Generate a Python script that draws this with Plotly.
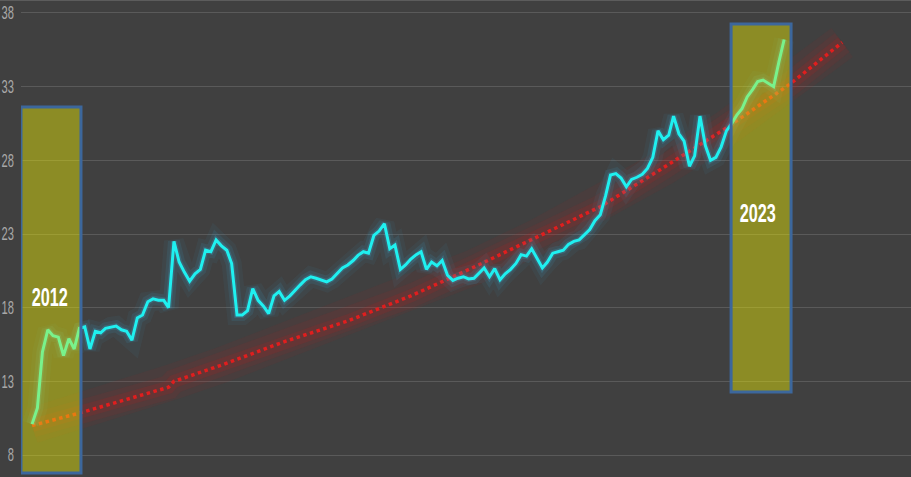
import pandas as pd
import plotly.graph_objects as go

# ---- data ----
months = pd.date_range("2012-01-01", periods=144, freq="MS")
values = [
    10.1, 11.2, 15.0, 16.5, 16.1, 16.0, 14.75, 15.9, 15.2, 16.6,
    16.7, 15.2, 16.4, 16.3, 16.6, 16.7, 16.75, 16.5, 16.4, 15.8,
    17.3, 17.5, 18.4, 18.6, 18.5, 18.5, 18.0, 22.5, 21.1, 20.4,
    19.8, 20.3, 20.6, 21.9, 21.8, 22.6, 22.2, 21.9, 21.0, 17.5,
    17.5, 17.8, 19.3, 18.5, 18.1, 17.6, 18.8, 19.1, 18.5, 18.8,
    19.2, 19.55, 19.9, 20.1, 20.0, 19.85, 19.75, 19.95, 20.35, 20.7,
    20.9, 21.2, 21.55, 21.8, 21.7, 22.9, 23.2, 23.7, 22.0, 22.25,
    20.6, 20.9, 21.3, 21.6, 21.8, 20.6, 21.1, 20.85, 21.2, 20.2,
    19.85, 20.0, 20.1, 19.95, 20.0, 20.4, 20.7, 20.1, 20.65, 19.9,
    20.3, 20.6, 21.0, 21.6, 21.5, 22.0, 21.35, 20.7, 21.1, 21.7,
    21.8, 21.9, 22.3, 22.5, 22.6, 22.95, 23.3, 23.9, 24.3, 25.6,
    27.0, 27.1, 26.8, 26.2, 26.7, 26.85, 27.05, 27.45, 28.2, 30.0,
    29.4, 29.7, 31.0, 29.8, 29.3, 27.6, 28.3, 31.0, 29.0, 28.0,
    28.2, 28.9, 30.0, 30.5, 31.05, 31.5, 32.3, 32.8, 33.35, 33.45,
    33.25, 33.0, 34.7, 36.2,
]
trend_dates = ["2012-01-01", "2012-10-01", "2014-03-01", "2014-04-01", "2015-01-01",
               "2016-01-01", "2017-01-01", "2018-01-01", "2019-01-01", "2020-01-01",
               "2021-01-01", "2022-01-01", "2023-01-01", "2024-01-01", "2024-11-01"]
trend_values = [10.0, 10.85, 12.6, 13.0, 14.1, 15.7, 17.1, 18.8, 20.75, 22.8,
                24.85, 27.5, 30.2, 33.15, 36.0]
highlight_labels = ["2012", "2023"]
y_ticks = [8, 13, 18, 23, 28, 33, 38]

BG = "#404040"
fig = go.Figure()

# trend glow
for w, a in [(36, 0.06), (24, 0.08), (13, 0.13)]:
    fig.add_trace(go.Scatter(x=trend_dates, y=trend_values, mode="lines",
                             line=dict(color=f"rgba(220,20,20,{a})", width=w),
                             hoverinfo="skip", showlegend=False))
fig.add_trace(go.Scatter(x=trend_dates, y=trend_values, mode="lines",
                         line=dict(color="#e01e1e", width=3.5, dash="dot"),
                         showlegend=False))

# main line glow
for w, a in [(20, 0.05), (12, 0.09), (6, 0.16)]:
    fig.add_trace(go.Scatter(x=months, y=values, mode="lines",
                             line=dict(color=f"rgba(60,200,255,{a})", width=w),
                             hoverinfo="skip", showlegend=False))
fig.add_trace(go.Scatter(x=months, y=values, mode="lines",
                         line=dict(color="#1ff0f0", width=3),
                         showlegend=False))

box_style = dict(type="rect", xref="x", yref="y", layer="above",
                 fillcolor="rgba(245,245,0,0.42)",
                 line=dict(color="#3c679c", width=3))
fig.add_shape(x0="2011-10-29", x1="2012-10-10", y0=6.78, y1=31.62, **box_style)
fig.add_shape(x0="2023-01-28", x1="2024-01-10", y0=12.27, y1=37.25, **box_style)
# top border line
fig.add_shape(type="line", xref="paper", yref="paper", x0=-0.03, x1=1, y0=1, y1=1,
              line=dict(color="#5c5c5c", width=2), layer="above")

font_lbl = dict(family="Liberation Sans, Arial", size=25, color="white")
fig.add_annotation(x="2012-04-12", y=18.72, text=f"<b>{highlight_labels[0]}</b>",
                   showarrow=False, font=font_lbl)
fig.add_annotation(x="2023-07-01", y=24.42, text=f"<b>{highlight_labels[1]}</b>",
                   showarrow=False, font=font_lbl)

fig.update_layout(
    width=911, height=477,
    margin=dict(l=21, r=0, t=0, b=0, autoexpand=False),
    paper_bgcolor=BG, plot_bgcolor=BG,
    showlegend=False,
    xaxis=dict(range=["2011-10-29", "2025-12-04"], visible=False, showgrid=False,
               automargin=False),
    yaxis=dict(range=[6.51, 38.88], tickvals=y_ticks, ticktext=[str(t) for t in y_ticks],
               showgrid=True, gridcolor="#5a5a5a", gridwidth=1, zeroline=False,
               showline=False, ticks="", ticklabelstandoff=6, automargin=False,
               tickfont=dict(family="Liberation Sans, Arial", size=18, color="#a8a8a8")),
)

post = """
document.body.style.margin='0';
document.body.style.background='#404040';
document.querySelectorAll('.annotation-text').forEach(function(t){
  t.style.transformBox='fill-box'; t.style.transformOrigin='center';
  t.style.transform='scaleX(0.65)';
});
document.querySelectorAll('.ytick text').forEach(function(t){
  var X = parseFloat(t.getAttribute('x')) || 0;
  var tr = t.getAttribute('transform') || '';
  t.setAttribute('transform', tr + ' translate(' + X + ',0) scale(0.62,1) translate(' + (-X) + ',0)');
});
"""
fig.write_html("out.html", post_script=post, config={"displayModeBar": False})
